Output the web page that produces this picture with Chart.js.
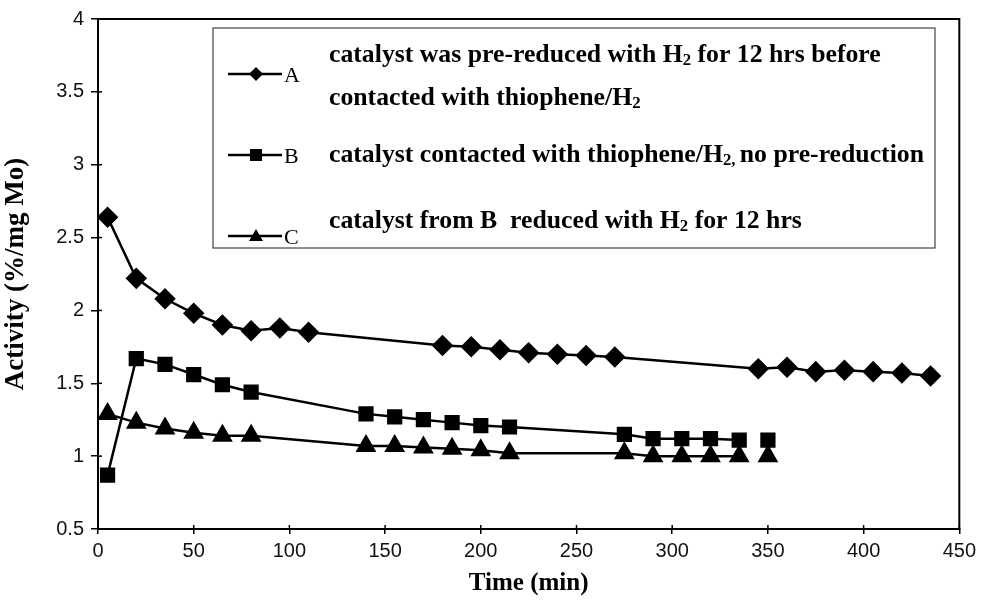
<!DOCTYPE html>
<html>
<head>
<meta charset="utf-8">
<script src="https://cdn.jsdelivr.net/npm/chart.js@4.4.1/dist/chart.umd.min.js"></script>
<style>
  html, body { margin: 0; padding: 0; background: #fff; }
  #wrap { width: 981px; height: 601px; }
</style>
</head>
<body>
<div id="wrap"><canvas id="myChart" width="981" height="601"></canvas></div>
<script>
// time (min) and activity (%/mg Mo)
const timeA = [5, 20, 35, 50, 65, 80, 95, 110, 180, 195, 210, 225, 240, 255, 270, 345, 360, 375, 390, 405, 420, 435];
const actA  = [2.64, 2.22, 2.08, 1.98, 1.90, 1.86, 1.88, 1.85, 1.76, 1.75, 1.73, 1.71, 1.70, 1.69, 1.68, 1.60, 1.61, 1.58, 1.59, 1.58, 1.57, 1.55];

const timeB = [5, 20, 35, 50, 65, 80, 140, 155, 170, 185, 200, 215, 275, 290, 305, 320, 335, 350];
const actB  = [0.87, 1.67, 1.63, 1.56, 1.49, 1.44, 1.29, 1.27, 1.25, 1.23, 1.21, 1.20, 1.15, 1.12, 1.12, 1.12, 1.11, 1.11];

const timeC = [5, 20, 35, 50, 65, 80, 140, 155, 170, 185, 200, 215, 275, 290, 305, 320, 335, 350];
const actC  = [1.29, 1.23, 1.19, 1.16, 1.14, 1.14, 1.07, 1.07, 1.06, 1.05, 1.04, 1.02, 1.02, 1.00, 1.00, 1.00, 1.00, 1.00];

const yTicks = [0.5, 1, 1.5, 2, 2.5, 3, 3.5, 4];
const xTicks = [0, 50, 100, 150, 200, 250, 300, 350, 400, 450];

// legend text, pieces marked sub are drawn as subscripts
const legendA = [[['catalyst was pre-reduced with H'], ['2', 'sub'], [' for 12 hrs before']],
                 [['contacted with thiophene/H'], ['2', 'sub']]];
const legendB = [[['catalyst contacted with thiophene/H'], ['2, ', 'sub'], ['no pre-reduction']]];
const legendC = [[['catalyst from B  reduced with H'], ['2', 'sub'], [' for 12 hrs']]];

function pts(xs, ys) {
    return xs.map((x, i) => ({ x: x, y: ys[i] }));
}

// last point of B and C stands alone in the original
function gapLast(n) {
    return {
        borderColor: c => c.p1DataIndex === n - 1 ? 'rgba(0,0,0,0)' : '#000'
    };
}

const mainFont = 'bold 26px "Liberation Serif", "DejaVu Serif", serif';
const subFont = 'bold 17px "Liberation Serif", "DejaVu Serif", serif';

const framePlugin = {
    id: 'frame',
    afterDraw(chart) {
        const c = chart.ctx;
        const a = chart.chartArea;
        c.save();
        c.strokeStyle = '#000';
        c.lineWidth = 2;
        c.strokeRect(a.left, a.top, a.right - a.left, a.bottom - a.top);
        // small inward ticks
        c.lineWidth = 1.5;
        const ys = chart.scales.y, xs = chart.scales.x;
        yTicks.forEach(v => {
            const p = ys.getPixelForValue(v);
            c.beginPath(); c.moveTo(a.left, p); c.lineTo(a.left + 4, p); c.stroke();
        });
        xTicks.forEach(v => {
            const p = xs.getPixelForValue(v);
            c.beginPath(); c.moveTo(p, a.bottom); c.lineTo(p, a.bottom - 4); c.stroke();
        });
        c.restore();
    }
};

function piecesWidth(c, pieces) {
    let w = 0;
    pieces.forEach(p => {
        c.font = p[1] === 'sub' ? subFont : mainFont;
        w += c.measureText(p[0]).width;
    });
    return w;
}

function drawPieces(c, pieces, x, y) {
    pieces.forEach(p => {
        if (p[1] === 'sub') {
            c.font = subFont;
            c.fillText(p[0], x, y + 6);
        } else {
            c.font = mainFont;
            c.fillText(p[0], x, y);
        }
        x += c.measureText(p[0]).width;
    });
}

function drawMarker(c, style, x, y) {
    c.beginPath();
    if (style === 'rectRot') {
        c.moveTo(x, y - 7); c.lineTo(x + 7, y); c.lineTo(x, y + 7); c.lineTo(x - 7, y);
    } else if (style === 'rect') {
        c.rect(x - 6, y - 6, 12, 12);
    } else {
        c.moveTo(x, y - 7); c.lineTo(x + 7, y + 5); c.lineTo(x - 7, y + 5);
    }
    c.closePath();
    c.fill();
}

const legendPlugin = {
    id: 'boxLegend',
    afterDraw(chart) {
        const c = chart.ctx;
        c.save();
        c.fillStyle = '#fff';
        c.fillRect(213, 28, 722, 220);
        c.strokeStyle = '#444';
        c.lineWidth = 1.2;
        c.strokeRect(213, 28, 722, 220);

        // squeeze the serif text to the width it has in the original
        const sx = 595 / piecesWidth(c, legendB[0]);

        const rows = [
            { style: 'rectRot', label: 'A', my: 74, lines: legendA, ty: [55, 98] },
            { style: 'rect', label: 'B', my: 155, lines: legendB, ty: [155] },
            { style: 'triangle', label: 'C', my: 236, lines: legendC, ty: [221] }
        ];
        rows.forEach(r => {
            c.strokeStyle = '#000';
            c.fillStyle = '#000';
            c.lineWidth = 2.5;
            c.beginPath(); c.moveTo(228, r.my); c.lineTo(282, r.my); c.stroke();
            drawMarker(c, r.style, 256, r.my);
            c.font = '22px "Liberation Serif", serif';
            c.textBaseline = 'middle';
            c.textAlign = 'left';
            c.fillText(r.label, 284, r.my + 2);
            r.lines.forEach((ln, i) => {
                c.save();
                c.translate(329, r.ty[i]);
                c.scale(sx, 1);
                drawPieces(c, ln, 0, 0);
                c.restore();
            });
        });
        c.restore();
    }
};

const tickFont = { family: '"Liberation Sans", Arial, sans-serif', size: 20 };

const ctx = document.getElementById('myChart').getContext('2d');

const myChart = new Chart(ctx, {
    type: 'scatter',
    data: {
        datasets: [{
            label: 'A',
            data: pts(timeA, actA),
            showLine: true,
            borderColor: '#000',
            backgroundColor: '#000',
            borderWidth: 2.5,
            pointStyle: 'rectRot',
            pointRadius: 9,
            pointHoverRadius: 9
        }, {
            label: 'B',
            data: pts(timeB, actB),
            showLine: true,
            borderColor: '#000',
            backgroundColor: '#000',
            borderWidth: 2.5,
            pointStyle: 'rect',
            pointRadius: 9,
            pointHoverRadius: 9,
            segment: gapLast(timeB.length)
        }, {
            label: 'C',
            data: pts(timeC, actC),
            showLine: true,
            borderColor: '#000',
            backgroundColor: '#000',
            borderWidth: 2.5,
            pointStyle: 'triangle',
            pointRadius: 9.5,
            pointHoverRadius: 9.5,
            segment: gapLast(timeC.length)
        }]
    },
    options: {
        responsive: false,
        animation: false,
        layout: {
            padding: { top: 18, right: 19, left: 0, bottom: 0 }
        },
        scales: {
            x: {
                type: 'linear',
                min: 0,
                max: 450,
                afterFit: s => { s.height = 72; },
                afterBuildTicks: s => { s.ticks = xTicks.map(v => ({ value: v })); },
                grid: {
                    drawOnChartArea: false,
                    tickLength: 5,
                    color: '#000',
                    lineWidth: 1.5
                },
                border: { color: '#000', width: 2 },
                ticks: {
                    color: '#111',
                    padding: 5,
                    maxRotation: 0,
                    font: tickFont,
                    callback: v => String(v)
                },
                title: {
                    display: true,
                    text: 'Time (min)',
                    color: '#000',
                    padding: { top: 0, bottom: 2 },
                    font: { family: '"Liberation Serif", serif', size: 25, weight: 'bold' }
                }
            },
            y: {
                min: 0.5,
                max: 4,
                afterFit: s => { s.width = 98; },
                afterBuildTicks: s => { s.ticks = yTicks.map(v => ({ value: v })); },
                grid: {
                    drawOnChartArea: false,
                    tickLength: 7,
                    color: '#000',
                    lineWidth: 1.5
                },
                border: { color: '#000', width: 2 },
                ticks: {
                    color: '#111',
                    padding: 7,
                    font: tickFont,
                    callback: v => String(v)
                },
                title: {
                    display: true,
                    text: 'Activity (%/mg Mo)',
                    color: '#000',
                    padding: { top: 0, bottom: 4 },
                    font: { family: '"Liberation Serif", serif', size: 27, weight: 'bold' }
                }
            }
        },
        plugins: {
            legend: { display: false },
            tooltip: { enabled: false }
        }
    },
    plugins: [framePlugin, legendPlugin]
});
</script>
</body>
</html>
